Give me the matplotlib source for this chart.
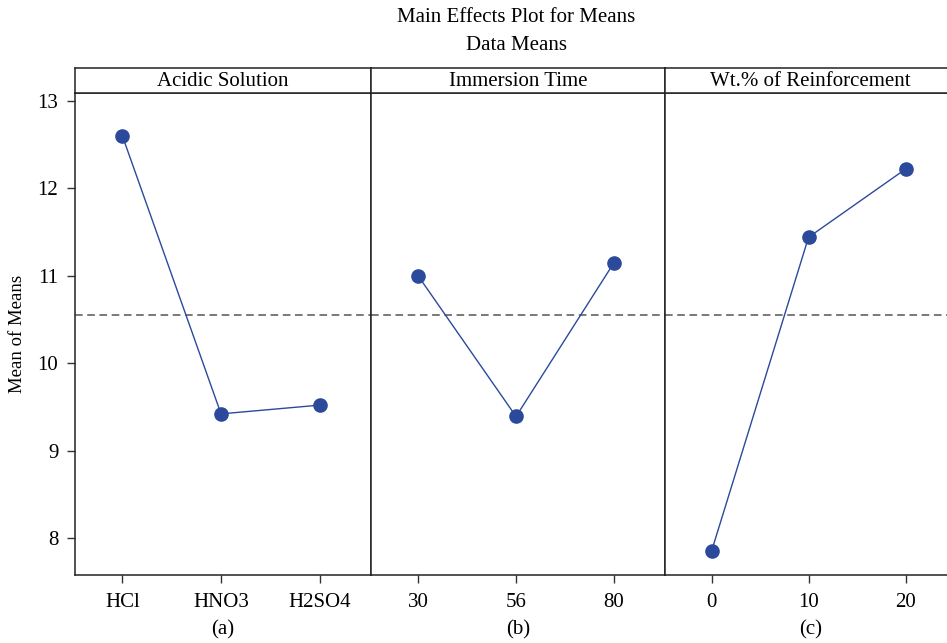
import matplotlib
matplotlib.use('Agg')
import matplotlib.pyplot as plt

plt.rcParams['font.family'] = ['Liberation Serif', 'DejaVu Serif']

acid_labels = ['HCl', 'HNO3', 'H2SO4']
acid_means = [12.60, 9.42, 9.52]
time_labels = ['30', '56', '80']
time_means = [11.00, 9.39, 11.15]
wt_labels = ['0', '10', '20']
wt_means = [7.85, 11.44, 12.22]
grand_mean = 10.55

panels = [
    ('Acidic Solution', acid_labels, acid_means, '(a)'),
    ('Immersion Time', time_labels, time_means, '(b)'),
    ('Wt.% of Reinforcement', wt_labels, wt_means, '(c)'),
]

W, H = 947, 643
fig = plt.figure(figsize=(W / 100, H / 100), dpi=100)

lefts = [75, 371, 665]
widths = [296, 294, 291]
bottom, top, strip = 575, 93, 25
blue = '#2b4a9c'
fs = 15

axes = []
for i, (name, labels, means, tag) in enumerate(panels):
    x0 = lefts[i] / W
    pw = widths[i] / W
    ax = fig.add_axes([x0, (H - bottom) / H, pw, (bottom - top) / H],
                      sharey=axes[0] if axes else None)
    axes.append(ax)
    xs = range(len(labels))
    ax.plot(xs, means, '-', color=blue, lw=1.0, marker='o', ms=9.5,
            mfc=blue, mec=blue, zorder=3)
    ax.axhline(grand_mean, color='#555555', lw=1.1, ls=(0, (5, 3)), zorder=1)
    ax.set_xlim(-0.48, 2.52)
    ax.set_xticks(list(xs))
    ax.set_xticklabels(labels, fontsize=fs)
    ax.tick_params(axis='x', direction='out', length=6, width=1, pad=7, color='#333333')
    ax.set_xlabel(tag, fontsize=fs, labelpad=6)
    for s in ax.spines.values():
        s.set_linewidth(1.1)
        s.set_color('#222222')
    if i == 0:
        ax.set_ylabel('Mean of Means', fontsize=13.5, va='center')
        ax.yaxis.set_label_coords((18 - 75) / 296, 0.5)
        ax.tick_params(axis='y', direction='out', length=6, width=1, labelsize=fs, pad=6,
                       color='#333333')
    else:
        ax.tick_params(axis='y', left=False, labelleft=False)

    sx = fig.add_axes([x0, (H - top) / H, pw, strip / H])
    sx.set_xticks([])
    sx.set_yticks([])
    for s in sx.spines.values():
        s.set_linewidth(1.1)
        s.set_color('#222222')
    sx.text(0.5, 0.45, name, ha='center', va='center', fontsize=fs,
            transform=sx.transAxes)

axes[0].set_ylim(7.577, 13.09)
axes[0].set_yticks([8, 9, 10, 11, 12, 13])

cx = 516 / W
fig.text(cx, 1 - 18 / H, 'Main Effects Plot for Means', ha='center', va='center', fontsize=fs)
fig.text(cx, 1 - 46 / H, 'Data Means', ha='center', va='center', fontsize=fs)

fig.savefig('out.png', dpi=100)
